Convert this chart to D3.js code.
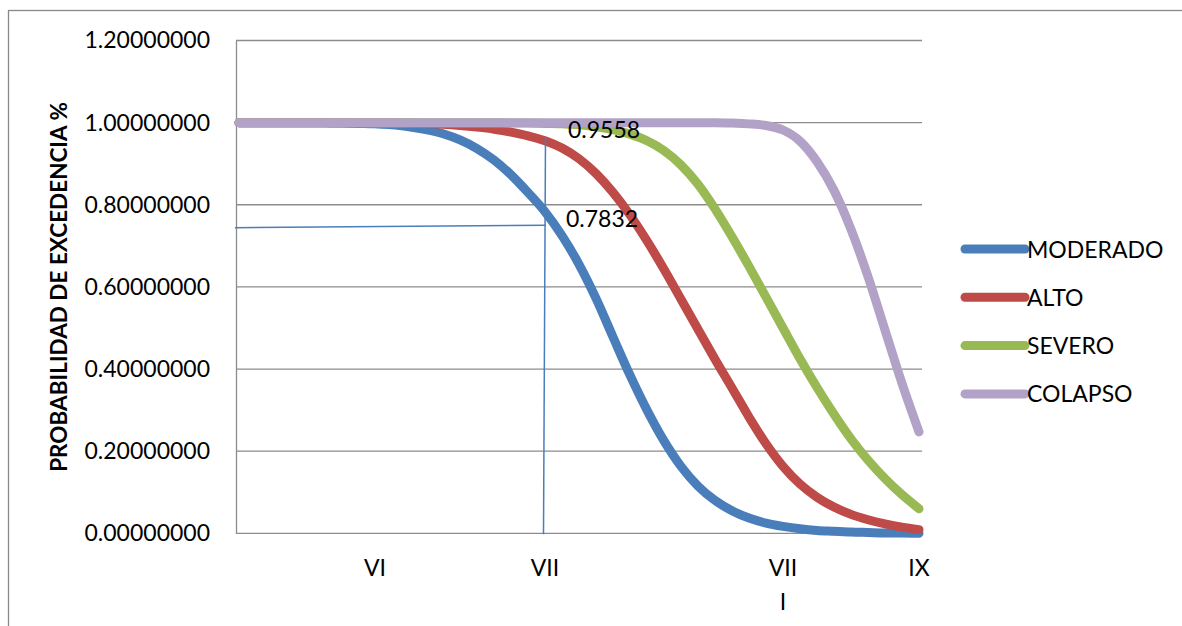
<!DOCTYPE html>
<html>
<head>
<meta charset="utf-8">
<script src="https://cdn.jsdelivr.net/npm/d3@7/dist/d3.min.js"></script>
<style>
  html, body { margin: 0; padding: 0; background: #fff; }
  svg { display: block; font-family: Lato, "Open Sans", sans-serif; }
</style>
</head>
<body>
<svg id="chart" width="1182" height="626"></svg>
<script>
// ---- DATA ----
const xLabels = ["", "", "", "", "", "", "", "", "VI", "", "",
                 "", "", "", "", "", "", "", "VII", "", "",
                 "", "", "", "", "", "", "", "", "", "",
                 "", "VIII", "", "", "", "", "", "", "", "IX"];
const categories = xLabels.map((_, i) => i);

const seriesNames = ["MODERADO", "ALTO", "SEVERO", "COLAPSO"];
const seriesColors = ["#4a7ebb", "#be4b48", "#98b954", "#b3a2c7"];

const moderado = [1.000, 1.000, 1.000, 1.000, 1.000, 0.9995, 0.999, 0.998, 0.997, 0.995,
                  0.990, 0.983, 0.973, 0.958, 0.937, 0.909, 0.873, 0.830, 0.7832, 0.725,
                  0.655, 0.572, 0.478, 0.385, 0.300, 0.225, 0.163, 0.115, 0.080, 0.055,
                  0.037, 0.025, 0.017, 0.011, 0.007, 0.005, 0.003, 0.002, 0.001, 0.001, 0.000];
const alto     = [1.000, 1.000, 1.000, 1.000, 1.000, 1.000, 1.000, 1.000, 1.000, 1.000,
                  0.999, 0.998, 0.996, 0.993, 0.989, 0.984, 0.977, 0.968, 0.9558, 0.938,
                  0.912, 0.876, 0.830, 0.775, 0.712, 0.643, 0.570, 0.497, 0.424, 0.354,
                  0.283, 0.218, 0.163, 0.120, 0.088, 0.064, 0.046, 0.033, 0.023, 0.015, 0.009];
const severo   = [1.000, 1.000, 1.000, 1.000, 1.000, 1.000, 1.000, 1.000, 1.000, 1.000,
                  1.000, 1.000, 1.000, 1.000, 1.000, 1.000, 0.999, 0.999, 0.998, 0.997,
                  0.995, 0.990, 0.983, 0.972, 0.956, 0.932, 0.897, 0.850, 0.790, 0.722,
                  0.650, 0.575, 0.500, 0.425, 0.355, 0.290, 0.230, 0.178, 0.133, 0.094, 0.060];
const colapso  = [1.000, 1.000, 1.000, 1.000, 1.000, 1.000, 1.000, 1.000, 1.000, 1.000,
                  1.000, 1.000, 1.000, 1.000, 1.000, 1.000, 1.000, 1.000, 1.000, 1.000,
                  1.000, 1.000, 1.000, 1.000, 1.000, 1.000, 1.000, 1.000, 1.000, 0.999,
                  0.997, 0.993, 0.982, 0.955, 0.905, 0.835, 0.740, 0.625, 0.495, 0.365, 0.247];
const seriesValues = [moderado, alto, severo, colapso];

const yTicks = [0, 0.2, 0.4, 0.6, 0.8, 1.0, 1.2];

// annotation (reading at VII)
const annotIndex = 18;
const annotTop = 0.9558;
const annotLow = 0.7832;
const annotHLine = [0.744, 0.750];

// ---- CHART ----
const svg = d3.select("#chart");

const x = d3.scaleLinear().domain([0, categories.length - 1]).range([239, 919]);
const y = d3.scaleLinear().domain([0, 1.2]).range([533.3, 40.5]);
const plotLeft = 236, plotRight = 922;

// outer chart border
svg.append("rect")
  .attr("x", 8.5).attr("y", 10.5).attr("width", 1200).attr("height", 700)
  .attr("fill", "none").attr("stroke", "#898989").attr("stroke-width", 1.3);

// gridlines
svg.append("g").selectAll("line").data(yTicks.filter(d => d > 0)).join("line")
  .attr("x1", plotLeft).attr("x2", plotRight)
  .attr("y1", d => y(d)).attr("y2", d => y(d))
  .attr("stroke", "#8c8c8c").attr("stroke-width", 1.3);

// y axis
const yAxis = d3.axisLeft(y).tickValues(yTicks).tickFormat(d3.format(".8f")).tickSize(0).tickPadding(26);
const gy = svg.append("g").attr("transform", `translate(${plotLeft},0)`).call(yAxis);
gy.select(".domain").attr("stroke", "#8c8c8c").attr("stroke-width", 1.3);
gy.selectAll("text").attr("font-size", 23).attr("fill", "#000")
  .attr("font-family", "Lato, sans-serif");

// x axis line
svg.append("line")
  .attr("x1", plotLeft).attr("x2", plotRight).attr("y1", y(0)).attr("y2", y(0))
  .attr("stroke", "#8c8c8c").attr("stroke-width", 1.3);

// x labels
const xl = svg.append("g").selectAll("text")
  .data(categories.filter(i => xLabels[i] !== "")).join("text")
  .attr("x", i => x(i)).attr("y", 576)
  .attr("text-anchor", "middle").attr("font-size", 23).attr("fill", "#000");
xl.each(function(i) {
  const t = d3.select(this);
  const lab = xLabels[i];
  if (lab.length > 3) {
    t.append("tspan").attr("x", x(i)).attr("dy", 0).text(lab.slice(0, 3));
    t.append("tspan").attr("x", x(i)).attr("dy", 34).text(lab.slice(3));
  } else {
    t.text(lab);
  }
});

// y title
svg.append("text")
  .attr("transform", "translate(67,287) rotate(-90)")
  .attr("text-anchor", "middle").attr("font-size", 22.5).attr("font-weight", "bold")
  .attr("fill", "#000").text("PROBABILIDAD DE EXCEDENCIA %");

// lines
const line = d3.line().x((d, i) => x(i)).y(d => y(d)).curve(d3.curveMonotoneX);
svg.append("g").selectAll("path").data(seriesValues).join("path")
  .attr("d", d => line(d))
  .attr("fill", "none")
  .attr("stroke", (d, i) => seriesColors[i])
  .attr("stroke-width", 9)
  .attr("stroke-linecap", "round")
  .attr("stroke-linejoin", "round");

// annotations
const annColor = "#4a7ebb";
svg.append("line")
  .attr("x1", x(annotIndex) + 0.5).attr("y1", y(annotTop) - 3)
  .attr("x2", x(annotIndex) - 1.5).attr("y2", y(0) + 1)
  .attr("stroke", annColor).attr("stroke-width", 1.5);
svg.append("line")
  .attr("x1", plotLeft - 1).attr("y1", y(annotHLine[0]))
  .attr("x2", x(annotIndex) + 1).attr("y2", y(annotHLine[1]))
  .attr("stroke", annColor).attr("stroke-width", 1.5);
svg.append("text").attr("x", 568).attr("y", y(annotTop) - 3)
  .attr("font-size", 23).attr("fill", "#000").text(annotTop.toFixed(4));
svg.append("text").attr("x", 566).attr("y", y(annotLow) + 15)
  .attr("font-size", 23).attr("fill", "#000").text(annotLow.toFixed(4));

// legend
const lg = svg.append("g").selectAll("g").data(seriesNames).join("g")
  .attr("transform", (d, i) => `translate(0,${249 + i * 48.3})`);
lg.append("line").attr("x1", 965).attr("x2", 1025).attr("y1", 0).attr("y2", 0)
  .attr("stroke", (d, i) => seriesColors[i]).attr("stroke-width", 9).attr("stroke-linecap", "round");
lg.append("text").attr("x", 1027).attr("y", 8.5).attr("font-size", 23).attr("fill", "#000").text(d => d);
</script>
</body>
</html>
